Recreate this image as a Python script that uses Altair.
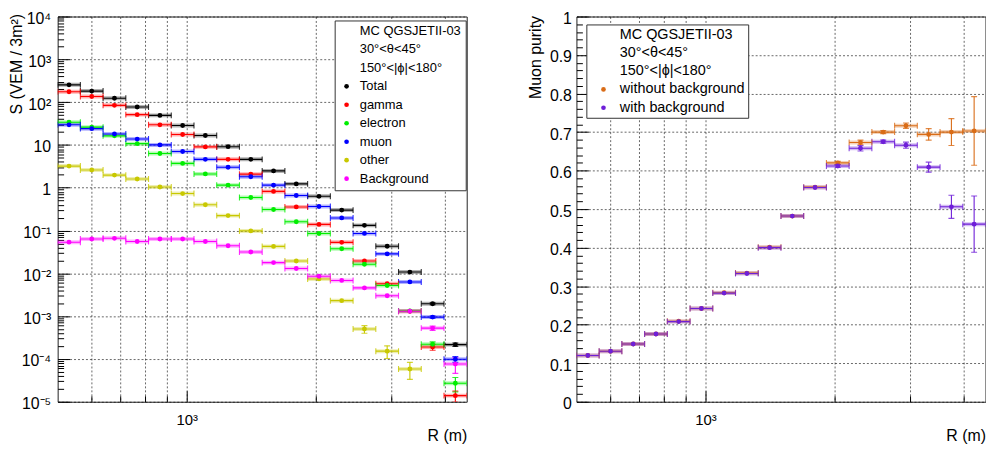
import altair as alt
import pandas as pd

# ---------------- data ----------------
r_lo = [500.0, 564.9, 638.2, 721.1, 814.7, 920.5, 1040.0, 1175.0, 1327.6, 1500.0,
        1694.7, 1914.8, 2163.3, 2444.3, 2761.6, 3120.1, 3525.2, 3982.9]
r_hi = [564.9, 638.2, 721.1, 814.7, 920.5, 1040.0, 1175.0, 1327.6, 1500.0, 1694.7,
        1914.8, 2163.3, 2444.3, 2761.6, 3120.1, 3525.2, 3982.9, 4500.0]
r_mid = [531.5, 600.5, 678.4, 766.5, 866.0, 978.4, 1105.4, 1248.9, 1411.1, 1594.4,
         1801.3, 2035.2, 2299.4, 2597.9, 2935.2, 3316.3, 3746.9, 4233.4]

left_header = ["MC QGSJETII-03", "30°<θ<45°", "150°<|ϕ|<180°"]
left_names = ["Total", "gamma", "electron", "muon", "other", "Background"]
left_colors = ["#000000", "#ff0000", "#00ee00", "#0000ff", "#c8c800", "#ff00ff"]

s_total = [253, 181, 123, 77, 49, 28.5, 16.6, 9.1, 4.6, 2.47, 1.23, 0.63, 0.30, 0.132,
           0.043, 0.0107, 0.00195, 0.000216]
s_gamma = [175, 135, 84, 51, 29.5, 17.5, 9.0, 4.6, 2.08, 0.82, 0.356, 0.139, 0.053, 0.0194,
           0.0057, 0.0013, 0.00019, 0.0000139]
s_electron = [33.8, 26, 16.3, 10.7, 6.3, 3.7, 2.1, 1.15, 0.59, 0.31, 0.16, 0.085, 0.0376,
              0.0163, 0.0052, 0.00132, 0.00022, 0.000027]
s_muon = [29.5, 24, 18, 13.7, 10, 7.0, 4.6, 3.0, 1.8, 1.15, 0.66, 0.364, 0.197, 0.0855,
          0.0285, 0.0063, 0.00095, 0.0000984]
s_other = [3.2, 2.6, 1.97, 1.6, 1.04, 0.73, 0.40, 0.223, 0.098, 0.0426, 0.0194, 0.0074,
           0.0023, 0.0005, 0.000152, 0.0000583, None, None]
s_background = [0.0534, 0.0634, 0.0658, 0.0553, 0.0634, 0.0634, 0.0553, 0.044, 0.0316,
                0.0178, 0.013, 0.00855, 0.00683, 0.00457, 0.0030, 0.0013, 0.000525, 0.0000759]

e_total = [0] * 16 + [0.0001, 0.00002]
e_gamma = [0] * 16 + [0.00003, 0.000004]
e_electron = [0] * 16 + [0.00003, 0.00001]
e_muon = [0] * 16 + [0.00006, 0.000015]
e_other = [0] * 13 + [0.0001, 0.00005, 0.000025, 0, 0]
e_background = [0] * 16 + [0.00006, 0.00003]

right_header = ["MC QGSJETII-03", "30°<θ<45°", "150°<|ϕ|<180°"]
right_names = ["without background", "with background"]
right_colors = ["#d96c17", "#6e1fd8"]

p_without = [0.12, 0.131, 0.15, 0.176, 0.209, 0.242, 0.283, 0.334, 0.401, 0.482, 0.557,
             0.620, 0.673, 0.700, 0.7165, 0.694, 0.700, 0.703]
p_with = [0.12, 0.131, 0.15, 0.176, 0.208, 0.242, 0.282, 0.333, 0.400, 0.482, 0.556,
          0.612, 0.658, 0.675, 0.666, 0.609, 0.506, 0.461]
e_without = [0] * 11 + [0.004, 0.006, 0.004, 0.007, 0.015, 0.035, 0.089]
e_with = [0] * 11 + [0.004, 0.007, 0.004, 0.008, 0.013, 0.030, 0.073]

x_grid_values = [600, 700, 800, 900, 1000, 2000, 3000, 4000]
x_minor_values = [600, 700, 800, 900, 2000, 3000, 4000]
y_left_values = [1e-5, 1e-4, 1e-3, 1e-2, 1e-1, 1, 10, 100, 1000, 10000]
y_left_labels = ["10⁻⁵", "10⁻⁴", "10⁻³", "10⁻²", "10⁻¹", "1", "10", "10²", "10³", "10⁴"]
y_left_minor = [k * d for d in [1e-5, 1e-4, 1e-3, 1e-2, 1e-1, 1, 10, 100, 1000] for k in range(2, 10)]
y_right_values = [round(0.1 * i, 1) for i in range(11)]
y_right_minor = [round(0.02 * i, 2) for i in range(51) if i % 5 != 0]

# ---------------- layout ----------------
W, H = 412, 388
FONT = "Liberation Sans"


def build_df(names, values, errs, key):
    rows = []
    for name, vals, es in zip(names, values, errs):
        for i, (v, e) in enumerate(zip(vals, es)):
            if v is None:
                continue
            rows.append({key: name, "r_lo": r_lo[i], "r_hi": r_hi[i], "r_mid": r_mid[i],
                         "v": v, "e": e, "v_lo": v - e, "v_hi": v + e})
    return pd.DataFrame(rows)


def panel(df, key, dom, rng, yscale, y_main, y_major, y_minor, legend):
    xsc = alt.Scale(type="log", domain=[500, 4500], nice=False)
    x_main = alt.Axis(orient="bottom", values=x_grid_values,
                      labelExpr="datum.value == 1000 ? '10³' : ''",
                      ticks=False, tickSize=0, domain=False, grid=True,
                      gridDash=[2, 2], gridColor="#000000", gridOpacity=0.6,
                      labelFont=FONT, labelFontSize=15, labelPadding=11,
                      labelColor="black", labelOverlap=False, labelFlush=False,
                      title="R (m)", titleFont=FONT, titleFontSize=16,
                      titleFontWeight="normal", titleColor="black",
                      titleX=W, titleY=39, titleAlign="right",
                      titleBaseline="alphabetic")
    x_major = alt.Axis(orient="bottom", values=[1000], labels=False, domain=False,
                       grid=False, ticks=True, tickSize=11, offset=-11,
                       tickColor="black", title=None)
    x_minor = alt.Axis(orient="bottom", values=x_minor_values, labels=False,
                       domain=False, grid=False, ticks=True, tickSize=6, offset=-6,
                       tickColor="black", title=None)
    col = alt.Color(f"{key}:N", scale=alt.Scale(domain=dom, range=rng), legend=legend)

    def X(field, axis):
        return alt.X(f"{field}:Q", scale=xsc, axis=axis)

    def Y(field, axis):
        return alt.Y(f"{field}:Q", scale=yscale, axis=axis)

    base = alt.Chart(df)
    band = base.mark_rule(strokeWidth=4, opacity=0.3, clip=True).encode(
        x=X("r_lo", x_main), x2="r_hi", y=Y("v", y_main), color=col)
    line = base.mark_rule(strokeWidth=1.1, clip=True).encode(
        x=X("r_lo", x_major), x2="r_hi", y=Y("v", y_major), color=col)
    cap_lo = base.mark_tick(orient="vertical", size=6, thickness=1.1, opacity=0.8, clip=True).encode(
        x=X("r_lo", x_minor), y=Y("v", y_minor), color=col)
    cap_hi = base.mark_tick(orient="vertical", size=6, thickness=1.1, opacity=0.8, clip=True).encode(
        x=X("r_hi", None), y=Y("v", None), color=col)
    verr = base.transform_filter("datum.e > 0").mark_rule(strokeWidth=1.1, clip=True).encode(
        x=X("r_mid", None), y=Y("v_lo", None), y2="v_hi", color=col)
    vcap_lo = base.transform_filter("datum.e > 0").mark_tick(
        orient="horizontal", size=6, thickness=1.1, opacity=0.8, clip=True).encode(
        x=X("r_mid", None), y=Y("v_lo", None), color=col)
    vcap_hi = base.transform_filter("datum.e > 0").mark_tick(
        orient="horizontal", size=6, thickness=1.1, opacity=0.8, clip=True).encode(
        x=X("r_mid", None), y=Y("v_hi", None), color=col)
    pts = base.mark_circle(size=24, opacity=1, clip=True).encode(
        x=X("r_mid", None), y=Y("v", None), color=col)
    return alt.layer(band, line, cap_lo, cap_hi, verr, vcap_lo, vcap_hi, pts).resolve_scale(
        x="independent", y="independent").properties(width=W, height=H)


# ----- left panel -----
df_left = build_df(left_names,
                   [s_total, s_gamma, s_electron, s_muon, s_other, s_background],
                   [e_total, e_gamma, e_electron, e_muon, e_other, e_background], "series")
ysc_left = alt.Scale(type="log", domain=[1e-5, 1e4], nice=False)
label_array = "[" + ",".join("'" + s + "'" for s in y_left_labels) + "]"
yl_main = alt.Axis(orient="left", values=y_left_values,
                   labelExpr=label_array + "[round(log(datum.value)/LN10)+5]",
                   ticks=False, tickSize=0, domain=False, grid=True, gridDash=[2, 2],
                   gridColor="#000000", gridOpacity=0.6, labelFont=FONT, labelFontSize=16,
                   labelPadding=7, labelOffset=2, labelColor="black", labelOverlap=False,
                   labelFlush=False,
                   title="S (VEM / 3m²)", titleFont=FONT, titleFontSize=16,
                   titleFontWeight="normal", titleColor="black", titleAngle=270,
                   titleX=-41, titleY=-3, titleAlign="right", titleBaseline="middle")
yl_major = alt.Axis(orient="left", values=y_left_values, labels=False, domain=False,
                    grid=False, ticks=True, tickSize=12, offset=-12, tickColor="black",
                    title=None)
yl_minor = alt.Axis(orient="left", values=y_left_minor, labels=False, domain=False,
                    grid=False, ticks=True, tickSize=6, offset=-6, tickColor="black",
                    title=None)
leg_left = alt.Legend(orient="none", legendX=279, legendY=4, title=None, padding=4,
                      symbolOffset=1.5, labelOffset=6.8, rowPadding=4.6,
                      strokeColor="#333333", fillColor="white", labelFont=FONT,
                      labelFontSize=13, labelColor="black", symbolType="circle",
                      symbolSize=22, symbolStrokeWidth=0, symbolOpacity=1, labelLimit=300)
left = panel(df_left, "series", left_header + left_names,
             ["rgba(0,0,0,0)"] * 3 + left_colors, ysc_left, yl_main, yl_major, yl_minor,
             leg_left)

# ----- right panel -----
df_right = build_df(right_names, [p_without, p_with], [e_without, e_with], "purity")
ysc_right = alt.Scale(type="linear", domain=[0, 1], nice=False, zero=False)
yr_main = alt.Axis(orient="left", values=y_right_values, format="~g",
                   ticks=False, tickSize=0, domain=False, grid=True, gridDash=[2, 2],
                   gridColor="#000000", gridOpacity=0.6, labelFont=FONT, labelFontSize=16,
                   labelPadding=5, labelOffset=2, labelColor="black", labelOverlap=False,
                   labelFlush=False,
                   title="Muon purity", titleFont=FONT, titleFontSize=16,
                   titleFontWeight="normal", titleColor="black", titleAngle=270,
                   titleX=-41.5, titleY=-1, titleAlign="right", titleBaseline="middle")
yr_major = alt.Axis(orient="left", values=y_right_values, labels=False, domain=False,
                    grid=False, ticks=True, tickSize=12, offset=-12, tickColor="black",
                    title=None)
yr_minor = alt.Axis(orient="left", values=y_right_minor, labels=False, domain=False,
                    grid=False, ticks=True, tickSize=6, offset=-6, tickColor="black",
                    title=None)
leg_right = alt.Legend(orient="none", legendX=10, legendY=8, title=None, padding=3,
                       symbolOffset=7, labelOffset=9.2, rowPadding=3.4,
                       strokeColor="#333333", fillColor="white", labelFont=FONT,
                       labelFontSize=14.5, labelColor="black", symbolType="circle",
                       symbolSize=22, symbolStrokeWidth=0, symbolOpacity=1, labelLimit=300)
right = panel(df_right, "purity", right_header + right_names,
              ["rgba(0,0,0,0)"] * 3 + right_colors, ysc_right, yr_main, yr_major, yr_minor,
              leg_right)

chart = alt.hconcat(left, right, spacing=59.5).resolve_scale(color="independent").properties(
    padding={"left": 0, "top": 0, "right": 0, "bottom": 0}
).configure_view(stroke="#222222", strokeWidth=1)

chart.save("out.html", embed_options={"renderer": "svg", "actions": False})
